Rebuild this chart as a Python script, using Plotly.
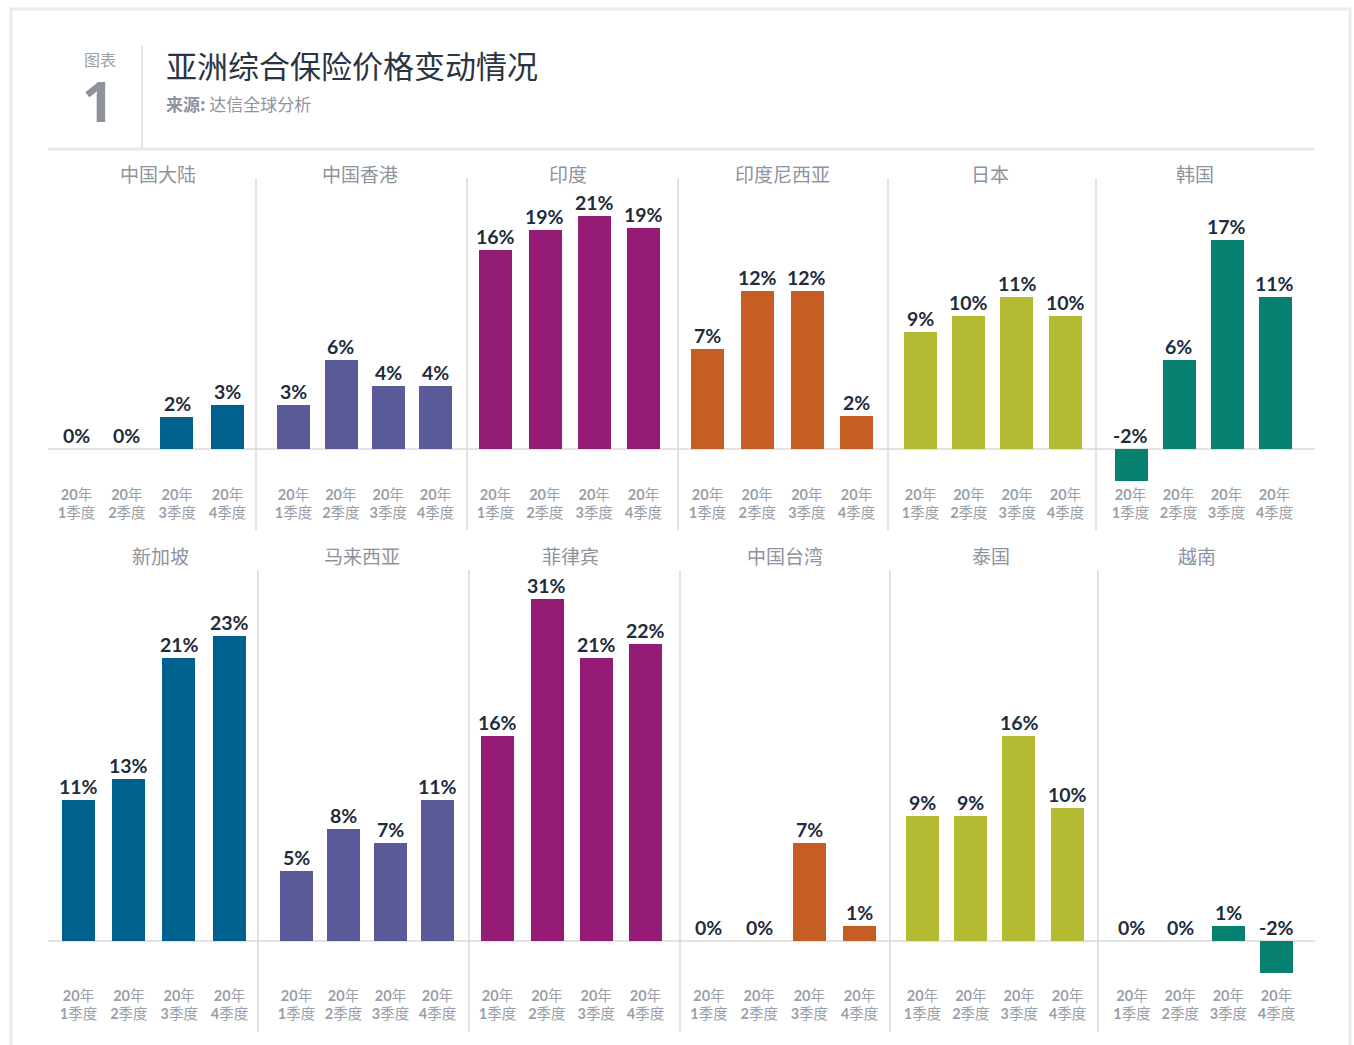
import plotly.graph_objects as go

# ---------------- data ----------------
countries_top = ["中国大陆", "中国香港", "印度", "印度尼西亚", "日本", "韩国"]
countries_bottom = ["新加坡", "马来西亚", "菲律宾", "中国台湾", "泰国", "越南"]
quarters = ["<b>20</b>年<br><b>1</b>季度", "<b>20</b>年<br><b>2</b>季度",
            "<b>20</b>年<br><b>3</b>季度", "<b>20</b>年<br><b>4</b>季度"]

# bar values (% change)
vals_mainland = [0.0, 0.0, 2.4, 3.3]
vals_hk = [3.3, 6.7, 4.7, 4.7]
vals_india = [15.0, 16.5, 17.5, 16.6]
vals_indonesia = [7.5, 11.9, 11.9, 2.5]
vals_japan = [8.8, 10.0, 11.4, 10.0]
vals_korea = [-2.4, 6.7, 15.7, 11.4]
vals_singapore = [10.6, 12.2, 21.3, 22.9]
vals_malaysia = [5.3, 8.4, 7.4, 10.6]
vals_philippines = [15.4, 25.7, 21.3, 22.3]
vals_taiwan = [0.0, 0.0, 7.4, 1.1]
vals_thailand = [9.4, 9.4, 15.4, 10.0]
vals_vietnam = [0.0, 0.0, 1.1, -2.4]

# displayed labels (%)
lab_mainland = [0, 0, 2, 3]
lab_hk = [3, 6, 4, 4]
lab_india = [16, 19, 21, 19]
lab_indonesia = [7, 12, 12, 2]
lab_japan = [9, 10, 11, 10]
lab_korea = [-2, 6, 17, 11]
lab_singapore = [11, 13, 21, 23]
lab_malaysia = [5, 8, 7, 11]
lab_philippines = [16, 31, 21, 22]
lab_taiwan = [0, 0, 7, 1]
lab_thailand = [9, 9, 16, 10]
lab_vietnam = [0, 0, 1, -2]

title = "亚洲综合保险价格变动情况"
source_label = "来源:"
source_text = "达信全球分析"

# ---------------- styling / layout ----------------
W, H = 1354, 1045
BLUE, PURPLE, MAGENTA, ORANGE, OLIVE, TEAL = "#00618f", "#5a5a99", "#951c75", "#c65e23", "#b5ba33", "#07806f"
colors = [BLUE, PURPLE, MAGENTA, ORANGE, OLIVE, TEAL]
FONT = "Lato, 'Noto Sans CJK SC', sans-serif"
CJK = "'Noto Sans CJK SC', sans-serif"
GRAY = "#8e939c"
TICKGRAY = "#9a9fa9"
DARK = "#1f2c3c"
LINE = "#dadada"

def px(x):
    return x / W

def py(y):
    return 1 - y / H

panels = [
    (countries_top[0], vals_mainland, lab_mainland, 0, (76.5, 227.5), 158),
    (countries_top[1], vals_hk, lab_hk, 0, (293.5, 435.5), 360),
    (countries_top[2], vals_india, lab_india, 0, (495.5, 643.5), 568),
    (countries_top[3], vals_indonesia, lab_indonesia, 0, (707.5, 856.5), 782),
    (countries_top[4], vals_japan, lab_japan, 0, (920.5, 1065.5), 990),
    (countries_top[5], vals_korea, lab_korea, 0, (1130.5, 1274.5), 1195),
    (countries_bottom[0], vals_singapore, lab_singapore, 1, (78.5, 229.5), 160),
    (countries_bottom[1], vals_malaysia, lab_malaysia, 1, (296.5, 437.5), 362),
    (countries_bottom[2], vals_philippines, lab_philippines, 1, (497.5, 645.5), 570),
    (countries_bottom[3], vals_taiwan, lab_taiwan, 1, (709, 859.5), 785),
    (countries_bottom[4], vals_thailand, lab_thailand, 1, (922.5, 1067.5), 991),
    (countries_bottom[5], vals_vietnam, lab_vietnam, 1, (1132, 1276.5), 1197),
]

K = 13.3  # px per percentage point
rows = [
    dict(base=449, top=190, bottom=482, title_y=173),
    dict(base=941, top=585, bottom=983, title_y=555),
]

fig = go.Figure()
annotations = []
shapes = []

for k, (name, vals, labs, r, (c0, c3), tx) in enumerate(panels, start=1):
    row = rows[r]
    s = (c3 - c0) / 3.0
    dom_x = [px(c0 - s / 2), px(c3 + s / 2)]
    dom_y = [py(row["bottom"]), py(row["top"])]
    ymax = (row["base"] - row["top"]) / K
    ymin = -(row["bottom"] - row["base"]) / K
    color = colors[(k - 1) % 6]
    xa, ya = f"x{k}", f"y{k}"
    fig.add_trace(go.Bar(
        x=[0, 1, 2, 3], y=vals, marker=dict(color=color, line=dict(width=0)),
        width=33 / s, xaxis=xa, yaxis=ya, showlegend=False, hoverinfo="skip",
    ))
    fig.layout[f"xaxis{k}"] = dict(
        domain=dom_x, range=[-0.5, 3.5], anchor=ya, tickmode="array",
        tickvals=[0, 1, 2, 3], ticktext=quarters, showgrid=False, zeroline=False,
        showline=False, ticks="", fixedrange=True, ticklabelstandoff=2,
        tickfont=dict(family=FONT, size=14.5, color=TICKGRAY),
    )
    fig.layout[f"yaxis{k}"] = dict(
        domain=dom_y, range=[ymin, ymax], anchor=xa, visible=False,
        showgrid=False, zeroline=False, fixedrange=True,
    )
    for i, (v, lab) in enumerate(zip(vals, labs)):
        annotations.append(dict(
            x=i, y=max(v, 0), xref=xa, yref=ya, text=f"<b>{lab}%</b>", showarrow=False,
            yanchor="bottom", xanchor="center", yshift=0,
            font=dict(family=FONT, size=19.5, color=DARK),
        ))
    annotations.append(dict(
        x=px(tx), y=py(row["title_y"]), xref="paper", yref="paper", text=name,
        showarrow=False, xanchor="center", yanchor="middle",
        font=dict(family=CJK, size=19, color=GRAY),
    ))
    # baseline per panel row (value 0)
    if k in (1, 7):
        shapes.append(dict(type="line", xref="paper", yref=ya, x0=px(48),
                           x1=px(1315), y0=0, y1=0,
                           line=dict(color=LINE, width=1.5), layer="below"))

# separators between panels
for x in (256, 467, 678, 888, 1096):
    shapes.append(dict(type="line", xref="paper", yref="paper", x0=px(x), x1=px(x),
                       y0=py(178), y1=py(530), line=dict(color=LINE, width=1.5), layer="below"))
for x in (258, 469, 680, 890, 1098):
    shapes.append(dict(type="line", xref="paper", yref="paper", x0=px(x), x1=px(x),
                       y0=py(570), y1=py(1032), line=dict(color=LINE, width=1.5), layer="below"))

# page frame
shapes.append(dict(type="rect", xref="paper", yref="paper", x0=px(11), x1=px(1350),
                   y0=py(1060), y1=py(9), line=dict(color="#ebebeb", width=3), layer="below"))
# header lines
shapes.append(dict(type="line", xref="paper", yref="paper", x0=px(48), x1=px(1314),
                   y0=py(149), y1=py(149), line=dict(color="#e8e8e8", width=3), layer="below"))
shapes.append(dict(type="line", xref="paper", yref="paper", x0=px(142), x1=px(142),
                   y0=py(45), y1=py(148), line=dict(color="#e6e6e6", width=2), layer="below"))

# header text
annotations += [
    dict(x=px(100), y=py(59), xref="paper", yref="paper", text="图表", showarrow=False,
         xanchor="center", yanchor="middle", font=dict(family=CJK, size=16, color="#9ca0a8")),
    dict(x=px(98), y=py(100), xref="paper", yref="paper", text="<b>1</b>", showarrow=False,
         xanchor="center", yanchor="middle", height=46, valign="middle",
         font=dict(family="'Open Sans', Lato, sans-serif", size=56, color="#8d929b")),
    dict(x=px(164), y=py(64), xref="paper", yref="paper", text=title, showarrow=False,
         xanchor="left", yanchor="middle", font=dict(family=CJK, size=31, color="#2a3442")),
    dict(x=px(164), y=py(104), xref="paper", yref="paper",
         text=f"<b>{source_label}</b> {source_text}", showarrow=False,
         xanchor="left", yanchor="middle", font=dict(family=CJK, size=17, color=GRAY)),
]

fig.update_layout(
    width=W, height=H, margin=dict(l=0, r=0, t=0, b=0),
    paper_bgcolor="white", plot_bgcolor="rgba(0,0,0,0)",
    annotations=annotations, shapes=shapes, bargap=0,
    font=dict(family=FONT),
)

fig.write_html("out.html", config={"displayModeBar": False},
               post_script="document.body.style.margin='0';document.body.style.overflow='hidden';")
